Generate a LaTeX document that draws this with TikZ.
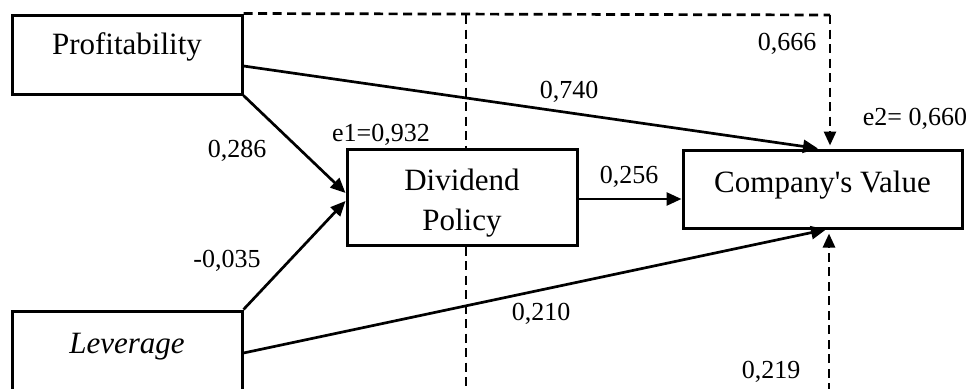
\documentclass[tikz,border=0pt]{standalone}
\usepackage{fontspec}
\setmainfont{Liberation Serif}
\usetikzlibrary{arrows.meta,calc}
\begin{document}
\begin{tikzpicture}[x=1pt,y=-1pt,
  box/.style={draw=black,line width=3pt,minimum width=230pt,minimum height=79pt,inner sep=0pt,
    font=\fontsize{31}{40}\selectfont,align=center},
  conn/.style={line width=2.7pt,-{Triangle[length=15pt,width=13pt]}},
  dline/.style={line width=2.7pt,dash pattern=on 9pt off 5.5pt},
  darr/.style={dline,-{Triangle[length=14pt,width=12pt]}},
  num/.style={font=\fontsize{26}{30}\selectfont,inner sep=0pt}]
\fill[white] (0,0) rectangle (974,388);
\clip (0,0) rectangle (974,388);
\node[box] (prof) at (127,54.5) {\smash{Profitability}};
\node[box] (lev) at (127,350.5) {\smash{\raisebox{-2.5pt}{\itshape Leverage}}};
\node[box,minimum height=96pt] (div) at (462,197) {\smash{\raisebox{-33pt}{\begin{tabular}[b]{@{}c@{}}Dividend\\Policy\end{tabular}}}};
\node[box,minimum width=279pt,minimum height=78pt] (cv) at (822.5,189) {\smash{\raisebox{-3pt}{Company\textquotesingle s Value}}};
\coordinate (tr) at (830,15);
\coordinate (tj) at (466,15);
\coordinate (bj) at (466,392);
\coordinate (bc) at (829,392);
% dashed lines
\draw[dline] (prof.north east) -- (tr);
\draw[darr] (tr) -- ([xshift=7.5pt,yshift=3pt]cv.north);
\draw[dline] (tj) -- (tj |- div.north);
\draw[dline] (tj |- div.south) -- (bj);
\draw[darr] (bc) -- ([xshift=6.5pt,yshift=-4pt]cv.south);
% arrows
\draw[conn] ([yshift=-11.5pt]prof.east) -- ([xshift=-4.5pt]cv.north);
\draw[conn] (prof.south east) -- ([yshift=4pt]div.west);
\draw[conn] (lev.north east) -- ([yshift=-4pt]div.west);
\draw[conn] ([yshift=-2pt]div.east) -- ([yshift=-2pt]div.east -| cv.west);
\draw[conn] ([yshift=-2.5pt]lev.east) -- ([xshift=3.5pt]cv.south);
% labels
\node[num] (l286) at (237,151) {0,286};
\node[num] (le1) at (381,135) {e1=0,932};
\node[num] (l666) at (787,44) {0,666};
\node[num] (l740) at (569,92) {0,740};
\node[num] (le2) at (915,119) {e2= 0,660};
\node[num] (l256) at (629,177) {0,256};
\node[num] (l035) at (227,261) {-0,035};
\node[num] (l210) at (541,314) {0,210};
\node[num] (l219) at (771,372) {0,219};
\end{tikzpicture}
\end{document}
